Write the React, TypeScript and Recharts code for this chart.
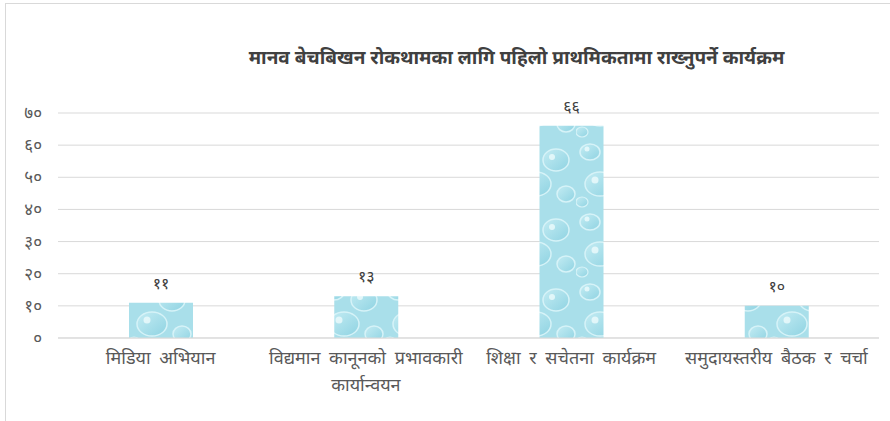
import React from 'react';
import { BarChart, Bar, XAxis, YAxis, CartesianGrid, LabelList } from 'recharts';

const title = 'मानव बेचबिखन रोकथामका लागि पहिलो प्राथमिकतामा राख्नुपर्ने कार्यक्रम';
const categories = [
  'मिडिया अभियान',
  'विद्यमान कानूनको प्रभावकारी\nकार्यान्वयन',
  'शिक्षा र सचेतना कार्यक्रम',
  'समुदायस्तरीय बैठक र चर्चा',
];
const values = [11, 13, 66, 10];
const yTicks = [0, 10, 20, 30, 40, 50, 60, 70];

const devDigits = ['०', '१', '२', '३', '४', '५', '६', '७', '८', '९'];
const toDev = (n: number | string) =>
  String(n).replace(/[0-9]/g, (d) => devDigits[Number(d)]);

const data = categories.map((c, i) => ({ name: c, value: values[i] }));

const FONT = '"Noto Sans Devanagari", "Lohit Devanagari", "Mangal", sans-serif';

const XTick = (props: any) => {
  const { x, y, payload } = props;
  const lines = String(payload.value).split('\n');
  return (
    <g transform={`translate(${x},${y})`}>
      {lines.map((l, i) => (
        <text
          key={i}
          x={0}
          y={0}
          dy={18 + i * 27}
          textAnchor="middle"
          fill="#595959"
          fontSize={18}
          fontFamily={FONT}
          style={{ wordSpacing: 4 }}
        >
          {l}
        </text>
      ))}
    </g>
  );
};

export default function App() {
  return (
    <div
      style={{
        position: 'absolute',
        left: 0,
        top: 0,
        width: 890,
        height: 421,
        overflow: 'hidden',
        background: '#fff',
      }}
    >
      <div
        style={{
          position: 'absolute',
          left: 5,
          top: 3,
          width: 900,
          height: 440,
          border: '1px solid #d9d9d9',
          boxSizing: 'border-box',
        }}
      />
      <div
        style={{
          position: 'absolute',
          left: 0,
          width: 1033,
          top: 47,
          textAlign: 'center',
          fontFamily: FONT,
          fontWeight: 'bold',
          fontSize: 19,
          lineHeight: '26px',
          color: '#404040',
          whiteSpace: 'nowrap',
        }}
      >
        {title}
      </div>
      <div style={{ position: 'absolute', left: 0, top: 0 }}>
        <BarChart
          width={890}
          height={421}
          data={data}
          margin={{ top: 113, right: 11, bottom: 23, left: 0 }}
        >
          <defs>
            <linearGradient id="dropGrad" x1="0" y1="0" x2="1" y2="1">
              <stop offset="0%" stopColor="#c4ecf3" />
              <stop offset="100%" stopColor="#8fd3e2" />
            </linearGradient>
            <pattern id="drops" patternUnits="userSpaceOnUse" width="64" height="70">
              <rect width="64" height="70" fill="#a9dfea" />
              <ellipse cx="14" cy="12" rx="10" ry="8" fill="url(#dropGrad)" stroke="#d6f3f8" strokeWidth="1.5" />
              <ellipse cx="44" cy="20" rx="13" ry="11" fill="url(#dropGrad)" stroke="#d6f3f8" strokeWidth="1.5" />
              <ellipse cx="24" cy="44" rx="15" ry="12" fill="url(#dropGrad)" stroke="#d6f3f8" strokeWidth="1.5" />
              <ellipse cx="54" cy="54" rx="9" ry="8" fill="url(#dropGrad)" stroke="#d6f3f8" strokeWidth="1.5" />
              <ellipse cx="6" cy="62" rx="6" ry="5" fill="url(#dropGrad)" stroke="#d6f3f8" strokeWidth="1.2" />
              <circle cx="40" cy="17" r="3" fill="#eefbfd" opacity="0.8" />
              <circle cx="19" cy="40" r="3.5" fill="#eefbfd" opacity="0.8" />
              <circle cx="11" cy="9" r="2.5" fill="#eefbfd" opacity="0.8" />
            </pattern>
          </defs>
          <CartesianGrid vertical={false} stroke="#d9d9d9" />
          <XAxis
            dataKey="name"
            interval={0}
            height={60}
            tickLine={false}
            axisLine={{ stroke: '#d9d9d9' }}
            tick={<XTick />}
          />
          <YAxis
            width={58}
            domain={[0, 70]}
            ticks={yTicks}
            tickLine={false}
            axisLine={false}
            tickMargin={10}
            tickFormatter={(v: number) => toDev(v)}
            tick={{ fill: '#595959', fontSize: 17, fontFamily: FONT }}
          />
          <Bar dataKey="value" fill="url(#drops)" barSize={64} isAnimationActive={false}>
            <LabelList
              dataKey="value"
              position="top"
              offset={14}
              formatter={(v: any) => toDev(v)}
              fill="#404040"
              fontSize={16}
              fontFamily={FONT}
            />
          </Bar>
        </BarChart>
      </div>
    </div>
  );
}
